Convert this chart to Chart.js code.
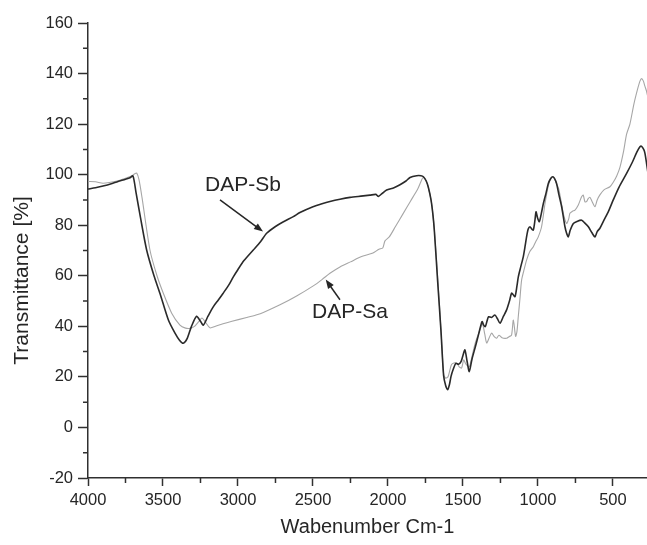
<!DOCTYPE html>
<html>
<head>
<meta charset="utf-8">
<script src="https://cdn.jsdelivr.net/npm/chart.js@4/dist/chart.umd.min.js"></script>
<style>
  html, body { margin: 0; padding: 0; background: #ffffff; }
  #wrap { width: 647px; height: 545px; }
</style>
</head>
<body>
<div id="wrap"><canvas id="c" width="647" height="545"></canvas></div>
<script>
// IR spectra of the two samples: wavenumber (cm-1) and transmittance (%)
const sbWavenumber = [4000, 3950, 3900, 3850, 3800, 3750, 3720, 3700, 3680, 3650, 3609, 3560, 3520, 3464, 3420, 3390, 3365, 3340, 3310, 3276, 3250, 3231, 3200, 3164, 3130, 3100, 3060, 3031, 3000, 2960, 2898, 2850, 2809, 2750, 2700, 2631, 2587, 2500, 2440, 2387, 2320, 2253, 2180, 2120, 2080, 2064, 2040, 2009, 1960, 1920, 1880, 1853, 1809, 1780, 1764, 1745, 1731, 1713, 1700, 1691, 1669, 1647, 1629, 1615, 1602, 1590, 1580, 1565, 1547, 1530, 1513, 1500, 1487, 1472, 1458, 1440, 1417, 1395, 1373, 1362, 1351, 1340, 1329, 1310, 1287, 1270, 1253, 1230, 1209, 1190, 1176, 1165, 1153, 1140, 1131, 1115, 1098, 1085, 1076, 1065, 1053, 1042, 1031, 1020, 1013, 1003, 991, 978, 964, 945, 931, 915, 902, 890, 876, 860, 842, 830, 820, 810, 798, 785, 764, 740, 709, 690, 664, 640, 620, 605, 587, 560, 530, 498, 460, 409, 370, 340, 320, 309, 295, 287, 276, 265];
const sbTransmittance = [94.3, 94.8, 95.5, 96.3, 97.3, 98.2, 98.8, 99.5, 93, 83, 70.2, 60, 53, 42.5, 37.3, 34.5, 33.3, 35, 40, 44, 42, 40.5, 44, 47.8, 50.5, 53, 56.5, 59.6, 62.5, 66, 70.2, 73.5, 76.8, 79.5, 81.3, 83.4, 85, 87.3, 88.5, 89.4, 90.3, 91, 91.5, 91.9, 92.2, 91.4, 92.5, 93.9, 94.8, 96, 97.5, 98.9, 99.6, 99.6, 99.2, 97.5, 95, 90, 84, 78, 58, 38.6, 20.5, 16.5, 14.9, 17, 20.1, 23, 25.4, 25, 26, 28.5, 30.7, 26, 22.1, 27, 32, 37, 41.9, 40.5, 39.9, 42, 43.8, 43.5, 44.5, 43, 41.2, 44, 46.5, 50, 53.1, 52.5, 51.7, 56, 59.6, 63.5, 67.5, 72, 75.4, 78.5, 79.4, 78.5, 78.1, 82, 85.3, 83, 81.4, 84.5, 88.6, 93, 96.5, 98.5, 99.2, 98.5, 96.5, 92, 87.3, 83, 79.4, 77, 75.4, 78, 80.7, 81.5, 82, 81, 79.4, 77, 75.4, 77.5, 78.8, 82, 85.5, 90, 95, 100.5, 105, 109, 111, 111.2, 110, 108.5, 104.5, 100];

const saWavenumber = [4000, 3950, 3900, 3850, 3800, 3750, 3710, 3690, 3675, 3660, 3640, 3587, 3540, 3498, 3442, 3387, 3350, 3320, 3290, 3260, 3240, 3215, 3187, 3150, 3100, 3040, 2942, 2880, 2831, 2720, 2609, 2498, 2440, 2387, 2320, 2250, 2180, 2100, 2060, 2035, 2020, 1990, 1950, 1900, 1850, 1800, 1775, 1764, 1745, 1731, 1713, 1700, 1688, 1665, 1645, 1629, 1615, 1600, 1590, 1577, 1560, 1540, 1525, 1509, 1495, 1480, 1458, 1440, 1420, 1400, 1387, 1370, 1355, 1342, 1325, 1309, 1290, 1276, 1260, 1240, 1209, 1190, 1176, 1164, 1149, 1140, 1131, 1120, 1109, 1090, 1076, 1055, 1031, 1015, 998, 976, 953, 935, 920, 898, 880, 860, 831, 809, 795, 787, 770, 753, 731, 709, 698, 687, 676, 665, 653, 640, 620, 605, 587, 560, 520, 498, 475, 453, 430, 409, 387, 360, 335, 320, 309, 297, 287, 276, 265];
const saTransmittance = [97.3, 97.2, 96.6, 97, 97.6, 98.6, 99.5, 100.3, 100.6, 98, 91, 70.2, 60, 53.1, 45.2, 40.5, 39.3, 39.2, 40, 42, 43.3, 41.5, 39.4, 40, 41, 42, 43.5, 44.5, 45.5, 48.5, 52, 56, 58.5, 61, 63.5, 65.5, 67.5, 69, 70.5, 71, 73.8, 75.5, 79.5, 84.5, 89.5, 94.5, 98, 99, 97.5, 95, 90, 84, 76, 56, 37, 21, 19.5, 20, 22, 24.8, 25.5, 25.3, 24, 23.5, 26.7, 25, 24, 28, 33, 36.5, 38.6, 41, 37, 33.4, 35.5, 37.3, 35.8, 35.3, 36.5, 35.5, 35.3, 36, 36.5, 42.5, 36, 38, 44, 51, 58.3, 63, 66.2, 69.5, 71.5, 73.5, 75.4, 79.4, 88.6, 94.5, 97.8, 99.2, 97, 94, 84.7, 80.7, 82.5, 84.7, 85.5, 86, 88, 91.3, 91.9, 89.3, 89.3, 90.5, 91, 89.5, 87.3, 90, 92, 94, 95.2, 97, 99.5, 103, 109, 116, 120, 128, 134, 137, 138, 137, 135, 133, 130];

const seriesNames = ['DAP-Sb', 'DAP-Sa'];

// axis ticks: every 250 cm-1 / 10 % with labels on every other one
const xTickValues = [4000, 3750, 3500, 3250, 3000, 2750, 2500, 2250, 2000, 1750, 1500, 1250, 1000, 750, 500];
const xLabelValues = [4000, 3500, 3000, 2500, 2000, 1500, 1000, 500];
const yTickValues = [-20, -10, 0, 10, 20, 30, 40, 50, 60, 70, 80, 90, 100, 110, 120, 130, 140, 150, 160];
const yLabelValues = [-20, 0, 20, 40, 60, 80, 100, 120, 140, 160];

const FONT = '"Liberation Sans", Arial, Helvetica, sans-serif';
const INK = '#262626';
const AXIS = '#303030';

function toPoints(xs, ys) {
  return xs.map((x, i) => ({ x: x, y: ys[i] }));
}

// short ticks for the unlabeled (minor) positions
const minorTicks = {
  id: 'minorTicks',
  afterDraw(chart) {
    const ctx = chart.ctx;
    const xs = chart.scales.x, ys = chart.scales.y;
    const len = 5;
    ctx.save();
    ctx.strokeStyle = AXIS;
    ctx.lineWidth = 1.5;
    ctx.beginPath();
    xTickValues.filter(v => !xLabelValues.includes(v)).forEach(v => {
      const px = xs.getPixelForValue(v);
      ctx.moveTo(px, xs.top);
      ctx.lineTo(px, xs.top + len);
    });
    yTickValues.filter(v => !yLabelValues.includes(v)).forEach(v => {
      const py = ys.getPixelForValue(v);
      ctx.moveTo(ys.right, py);
      ctx.lineTo(ys.right - len, py);
    });
    ctx.stroke();
    ctx.restore();
  }
};

// rotated y axis title, set a little below the middle of the plot
const yTitle = {
  id: 'yTitle',
  afterDraw(chart, args, opts) {
    const ctx = chart.ctx;
    const a = chart.chartArea;
    ctx.save();
    ctx.translate(opts.x, (a.top + a.bottom) / 2 + opts.shift);
    ctx.rotate(-Math.PI / 2);
    ctx.fillStyle = INK;
    ctx.font = '21px ' + FONT;
    ctx.textAlign = 'center';
    ctx.textBaseline = 'middle';
    ctx.fillText(opts.text, 0, 0);
    ctx.restore();
  }
};

// sample names with arrows pointing at their curves (positions in data units)
const callouts = {
  id: 'callouts',
  afterDatasetsDraw(chart, args, opts) {
    const ctx = chart.ctx;
    const xs = chart.scales.x, ys = chart.scales.y;
    ctx.save();
    opts.items.forEach(item => {
      ctx.fillStyle = INK;
      ctx.font = '21px ' + FONT;
      ctx.textAlign = 'center';
      ctx.textBaseline = 'middle';
      ctx.fillText(item.text, xs.getPixelForValue(item.label[0]), ys.getPixelForValue(item.label[1]));

      const x0 = xs.getPixelForValue(item.from[0]), y0 = ys.getPixelForValue(item.from[1]);
      const x1 = xs.getPixelForValue(item.to[0]), y1 = ys.getPixelForValue(item.to[1]);
      const ang = Math.atan2(y1 - y0, x1 - x0);
      const head = 9, half = 3.5;
      ctx.strokeStyle = INK;
      ctx.lineWidth = 1.5;
      ctx.beginPath();
      ctx.moveTo(x0, y0);
      ctx.lineTo(x1 - head * 0.8 * Math.cos(ang), y1 - head * 0.8 * Math.sin(ang));
      ctx.stroke();
      ctx.beginPath();
      ctx.moveTo(x1, y1);
      ctx.lineTo(x1 - head * Math.cos(ang) + half * Math.sin(ang), y1 - head * Math.sin(ang) - half * Math.cos(ang));
      ctx.lineTo(x1 - head * Math.cos(ang) - half * Math.sin(ang), y1 - head * Math.sin(ang) + half * Math.cos(ang));
      ctx.closePath();
      ctx.fill();
    });
    ctx.restore();
  }
};

new Chart(document.getElementById('c'), {
  type: 'line',
  data: {
    datasets: [
      {
        label: seriesNames[0],
        data: toPoints(sbWavenumber, sbTransmittance),
        borderColor: '#2a2a2a',
        borderWidth: 1.6,
        pointRadius: 0,
        fill: false
      },
      {
        label: seriesNames[1],
        data: toPoints(saWavenumber, saTransmittance),
        borderColor: '#a6a6a6',
        borderWidth: 1.1,
        pointRadius: 0,
        fill: false
      }
    ]
  },
  options: {
    responsive: false,
    animation: false,
    devicePixelRatio: 1,
    layout: { padding: { top: 23, left: 0, right: 0, bottom: 0 } },
    elements: { line: { tension: 0.25 } },
    plugins: {
      legend: { display: false },
      tooltip: { enabled: false },
      yTitle: { text: 'Transmittance [%]', x: 22, shift: 30 },
      callouts: {
        items: [
          { text: seriesNames[0], label: [2967, 96], from: [3120, 90], to: [2833, 77.5] },
          { text: seriesNames[1], label: [2253, 45.5], from: [2320, 50.5], to: [2415, 58.5] }
        ]
      }
    },
    scales: {
      x: {
        type: 'linear',
        reverse: true,
        min: 273,
        max: 4000,
        afterBuildTicks: s => { s.ticks = xTickValues.map(v => ({ value: v })); },
        afterFit: s => { s.height = 67; },
        grid: {
          drawOnChartArea: false,
          tickLength: 8,
          tickWidth: 1.5,
          tickColor: c => (c.tick && xLabelValues.includes(c.tick.value)) ? AXIS : 'rgba(0,0,0,0)'
        },
        border: { color: AXIS, width: 1.5 },
        ticks: {
          autoSkip: false,
          maxRotation: 0,
          padding: 5,
          color: INK,
          font: { family: FONT, size: 16.5 },
          callback: v => xLabelValues.includes(v) ? String(v) : ''
        },
        title: {
          display: true,
          text: 'Wabenumber Cm-1',
          color: INK,
          font: { family: FONT, size: 20 },
          padding: { top: 0, bottom: 6 }
        }
      },
      y: {
        type: 'linear',
        min: -20,
        max: 160,
        afterBuildTicks: s => { s.ticks = yTickValues.map(v => ({ value: v })); },
        afterFit: s => { s.width = 88; },
        grid: {
          drawOnChartArea: false,
          tickLength: 10,
          tickWidth: 1.5,
          tickColor: c => (c.tick && yLabelValues.includes(c.tick.value)) ? AXIS : 'rgba(0,0,0,0)'
        },
        border: { color: AXIS, width: 1.5 },
        ticks: {
          autoSkip: false,
          padding: 5,
          color: INK,
          font: { family: FONT, size: 16.5 },
          callback: v => yLabelValues.includes(v) ? String(v) : ''
        },
        title: { display: false }
      }
    }
  },
  plugins: [minorTicks, yTitle, callouts]
});
</script>
</body>
</html>
